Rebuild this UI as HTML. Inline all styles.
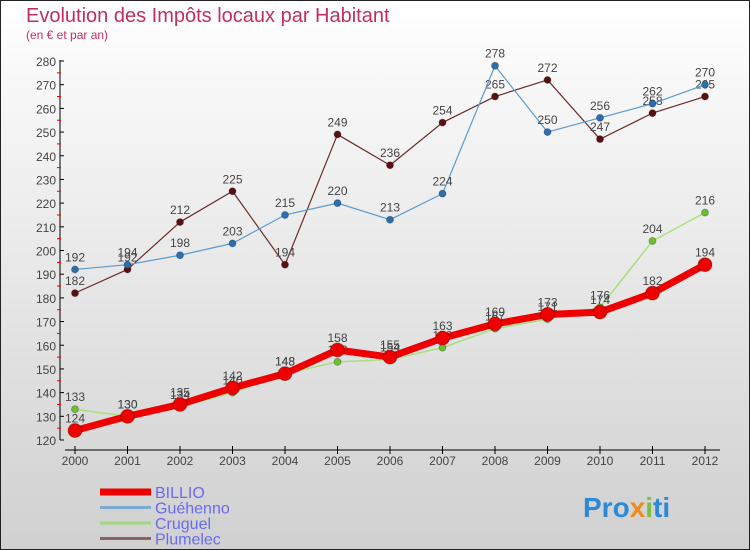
<!DOCTYPE html>
<html><head><meta charset="utf-8"><style>
body{margin:0}
svg{display:block;font-family:"Liberation Sans",sans-serif}
</style></head><body>
<svg id="c" width="750" height="550">
<defs><linearGradient id="bg" x1="0" y1="0" x2="0" y2="1"><stop offset="0" stop-color="#ffffff"/><stop offset="1" stop-color="#d0d0d0"/></linearGradient></defs>
<rect x="0.5" y="0.5" width="749" height="549" fill="url(#bg)" stroke="#222"/>
<text x="26" y="22" font-size="20" fill="#c0305a">Evolution des Impôts locaux par Habitant</text>
<text x="26" y="39" font-size="12" fill="#c0305a">(en € et par an)</text>
<g id="axes"></g><g id="series"></g><g id="legend"></g>
<text x="583" y="517" font-size="28" font-weight="bold" fill="#2a8ad8">Pro<tspan fill="#f08a1a">x</tspan><tspan fill="#7cc040">i</tspan>ti</text>
</svg>
<script>
const years=[2000,2001,2002,2003,2004,2005,2006,2007,2008,2009,2010,2011,2012];
const yTicks=[120,130,140,150,160,170,180,190,200,210,220,230,240,250,260,270,280];
const seriesNames=["BILLIO","Guéhenno","Cruguel","Plumelec"];
const billio=[124,130,135,142,148,158,155,163,169,173,174,182,194];
const guehenno=[192,194,198,203,215,220,213,224,278,250,256,262,270];
const cruguel=[133,130,134,140,148,153,154,159,167,171,176,204,216];
const plumelec=[182,192,212,225,194,249,236,254,265,272,247,258,265];
const NS="http://www.w3.org/2000/svg";
const X=i=>75+i*52.5;
const Y=v=>440-(v-120)*(379/160);
function mk(t,a,p){const e=document.createElementNS(NS,t);for(const k in a)e.setAttribute(k,a[k]);p.appendChild(e);return e;}
const ax=document.getElementById('axes');
let l=mk('line',{x1:60,y1:60,x2:60,y2:440,stroke:'#000'},ax);


l=mk('line',{x1:65,y1:450,x2:720,y2:450,stroke:'#000'},ax);


yTicks.forEach((v,i)=>{
 mk('line',{x1:60,y1:Y(v),x2:64,y2:Y(v),stroke:'#000'},ax);
 if(i<yTicks.length-1) mk('line',{x1:57,y1:Y(v+5),x2:61,y2:Y(v+5),stroke:'#e00'},ax);
 const t=mk('text',{x:56,y:Y(v)+5,'font-size':12,'text-anchor':'end',fill:'#444'},ax);t.textContent=v;
 
 
});
years.forEach((y,i)=>{
 mk('line',{x1:X(i),y1:446,x2:X(i),y2:454,stroke:'#000'},ax);
 const t=mk('text',{x:X(i),y:465,'font-size':12,'text-anchor':'middle',fill:'#444'},ax);t.textContent=y;
 
 
});
const sg=document.getElementById('series');
const defs=[[plumelec,'#6a2a2a','#5a1010',1.2,3.5,'plumelec'],[guehenno,'#5a9ad0','#2a70b0',1.2,3.5,'guehenno'],[cruguel,'#a8e080','#6cc030',1.5,3.5,'cruguel'],[billio,'#ee0000','#ee0000',7,7,'billio']];
const order=[3,0,2,1];
defs.forEach((d,k)=>{
 const [vals,lc,pc,w,r,nm]=d;
 const g=mk('g',{},sg);
 
 
 const p=mk('polyline',{points:vals.map((v,i)=>X(i)+','+Y(v)).join(' '),fill:'none',stroke:lc,'stroke-width':w,'stroke-linejoin':'round'},g);
 
 
 vals.forEach((v,i)=>{
  const c=mk('circle',{cx:X(i),cy:Y(v),r:r,fill:pc,stroke:'rgba(0,0,0,0.25)'},g);
  
  
  const t=mk('text',{x:X(i),y:Y(v)-8,'font-size':12,'text-anchor':'middle',fill:'#444'},g);t.textContent=v;
  
  
 });
});
const lg=document.getElementById('legend');
const lcol=['#ee0000','#7aaad0','#a0d880','#906060'];
const lw=[7,3,3,3];
seriesNames.forEach((n,i)=>{
 const y=492+i*15.5;
 const g=mk('g',{},lg);
 
 
 mk('line',{x1:100,y1:y,x2:151,y2:y,stroke:lcol[i],'stroke-width':lw[i]},g);
 const t=mk('text',{x:155,y:y+6,'font-size':16,fill:'#6a6af0'},g);t.textContent=n;
});
</script>
</body></html>
